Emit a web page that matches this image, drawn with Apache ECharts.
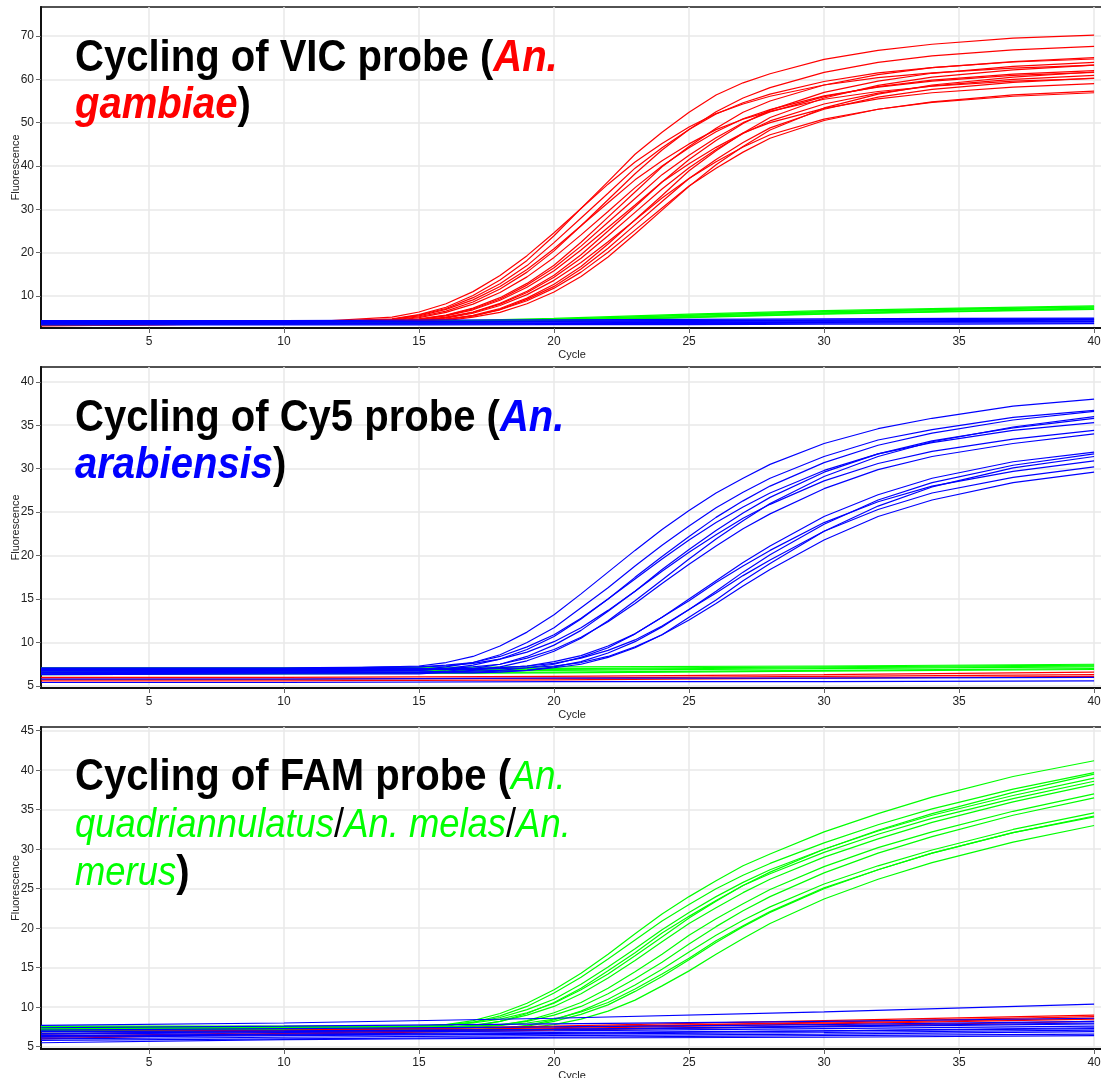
<!DOCTYPE html>
<html><head><meta charset="utf-8">
<script src="https://cdn.jsdelivr.net/npm/echarts@6/dist/echarts.min.js"></script>
<style>html,body{margin:0;padding:0;background:#fff}#c{width:1101px;height:1078px}</style>
</head><body><div id="c"></div>
<script>
// ---------- tick labels ----------
const xTicks = [5, 10, 15, 20, 25, 30, 35, 40];
const yTicks1 = [10, 20, 30, 40, 50, 60, 70];
const yTicks2 = [5, 10, 15, 20, 25, 30, 35, 40];
const yTicks3 = [5, 10, 15, 20, 25, 30, 35, 40, 45];

// ---------- panel 1 (VIC) ----------
const cyc1 = [1, 10, 14, 15, 16, 17, 18, 19, 20, 21, 22, 23, 24, 25, 26, 27, 28, 30, 32, 34, 37, 40];
const vicRed = [
  [3.3,3.7,5.1,6.3,8.2,11.0,14.7,19.3,24.6,30.2,35.8,40.9,45.2,49.0,52.1,54.3,56.1,58.7,60.4,61.5,62.6,63.3],
  [3.5,3.8,4.7,5.7,7.4,10.1,13.7,18.2,23.9,30.2,36.4,42.7,47.8,52.4,56.4,59.2,61.3,64.6,66.7,68.1,69.5,70.2],
  [3.4,3.8,4.6,5.6,7.1,9.6,12.8,17.0,22.3,28.0,33.7,39.5,44.2,48.4,52.0,54.6,56.6,59.5,61.5,62.7,64.0,64.7],
  [3.2,3.7,4.6,5.4,6.9,9.1,12.2,16.1,20.9,26.2,31.5,36.8,41.2,45.1,48.4,50.8,52.6,55.4,57.2,58.4,59.6,60.2],
  [3.6,3.8,4.4,5.2,6.5,8.6,11.6,15.5,20.4,26.2,32.2,38.2,43.7,48.4,52.5,55.7,58.1,61.6,63.9,65.4,66.8,67.6],
  [3.1,3.6,4.3,5.0,6.2,8.1,10.8,14.4,18.9,24.1,29.5,35.0,40.0,44.2,47.9,50.9,53.0,56.2,58.2,59.6,60.9,61.6],
  [3.5,3.8,4.1,4.7,5.6,7.2,9.6,12.9,17.1,22.4,28.2,34.0,39.8,44.5,48.7,52.4,55.0,58.7,61.1,62.7,64.1,65.0],
  [3.3,3.7,4.1,4.6,5.5,7.0,9.3,12.5,16.5,21.5,27.0,32.5,38.0,42.5,46.5,50.0,52.5,56.0,58.3,59.8,61.2,62.0],
  [3.4,3.7,4.1,4.6,5.4,6.8,9.0,12.0,15.8,20.6,25.8,31.0,36.3,40.5,44.3,47.6,50.0,53.3,55.5,56.9,58.2,59.0],
  [3.6,3.8,4.0,4.4,5.1,6.3,8.3,11.1,14.8,19.5,25.0,30.6,36.3,41.5,45.9,49.8,52.9,57.0,59.6,61.4,63.0,63.9],
  [3.2,3.6,4.0,4.3,5.0,6.2,8.1,10.8,14.3,18.7,23.9,29.3,34.7,39.6,43.8,47.5,50.4,54.3,56.8,58.5,60.0,60.9],
  [3.4,3.7,4.0,4.3,4.9,6.0,7.8,10.3,13.6,17.7,22.5,27.5,32.6,37.1,41.0,44.4,47.2,50.8,53.1,54.7,56.1,56.9],
  [3.5,3.8,3.9,4.1,4.6,5.5,7.1,9.5,12.7,16.8,22.0,27.6,33.2,38.9,43.5,47.6,51.2,55.7,58.6,60.5,62.2,63.3],
  [3.3,3.6,3.9,4.1,4.6,5.4,6.9,9.2,12.2,16.2,21.0,26.4,31.8,37.1,41.5,45.4,48.8,53.1,55.9,57.7,59.3,60.3],
  [3.2,3.6,3.9,4.1,4.6,5.4,6.8,8.9,11.8,15.5,20.1,25.2,30.3,35.4,39.5,43.2,46.4,50.5,53.1,54.8,56.4,57.3],
  [3.5,3.8,3.9,4.0,4.3,5.1,6.2,8.2,10.9,14.5,19.0,24.3,29.8,35.3,40.3,44.5,48.3,53.4,56.6,58.7,60.5,61.7]
];
const cycFlat1 = [1, 10, 15, 20, 25, 30, 35, 40];
const vicGreen = [
  [3.6,3.7,3.9,4.6,5.6,6.4,7.0,7.5],
  [3.5,3.6,3.8,4.4,5.3,6.1,6.7,7.2],
  [3.8,3.9,4.1,4.8,5.8,6.6,7.2,7.7],
  [3.4,3.5,3.7,4.2,5.0,5.8,6.4,6.9],
  [3.7,3.8,4.0,4.6,5.5,6.3,6.9,7.4],
  [3.5,3.6,3.8,4.3,5.1,5.9,6.5,7.0]
];
const vicBlue = [
  [4.3,4.3,4.4,4.5,4.6,4.7,4.8,4.9],
  [4.1,4.1,4.1,4.2,4.3,4.4,4.5,4.6],
  [3.9,3.9,4.0,4.0,4.1,4.2,4.3,4.4],
  [3.7,3.7,3.8,3.8,3.9,4.0,4.1,4.2],
  [3.5,3.5,3.5,3.6,3.6,3.7,3.8,3.8],
  [3.3,3.3,3.3,3.4,3.4,3.5,3.5,3.6],
  [4.0,4.0,4.1,4.2,4.3,4.4,4.6,4.7],
  [3.6,3.6,3.7,3.7,3.8,3.9,4.0,4.1]
];

// ---------- panel 2 (Cy5) ----------
const cyc2 = [1, 10, 15, 16, 17, 18, 19, 20, 21, 22, 23, 24, 25, 26, 27, 28, 30, 32, 34, 37, 40];
const cy5Blue = [
  [6.8,6.9,7.3,7.7,8.4,9.6,11.2,13.2,15.6,18.1,20.6,23.0,25.2,27.2,28.9,30.5,32.9,34.6,35.8,37.2,38.0],
  [6.6,6.7,6.9,7.2,7.7,8.6,10.0,11.7,14.0,16.3,18.8,21.2,23.4,25.5,27.3,28.9,31.4,33.3,34.5,35.9,36.7],
  [6.5,6.6,6.8,7.0,7.4,8.1,9.2,10.7,12.7,15.0,17.5,19.9,22.2,24.4,26.3,28.0,30.7,32.7,34.1,35.6,36.6],
  [7.0,7.0,7.2,7.4,7.7,8.4,9.5,10.9,12.8,15.0,17.3,19.6,21.8,23.8,25.6,27.2,29.8,31.7,33.0,34.4,35.3],
  [6.4,6.5,6.6,6.7,7.0,7.5,8.4,9.7,11.4,13.6,15.9,18.4,20.7,22.9,24.9,26.7,29.6,31.7,33.2,34.7,35.8],
  [7.1,7.1,7.2,7.3,7.6,8.1,8.9,10.1,11.7,13.7,15.9,18.2,20.4,22.4,24.3,25.9,28.6,30.6,32.0,33.4,34.4],
  [6.8,6.8,6.8,7.0,7.2,7.5,8.2,9.2,10.6,12.4,14.5,16.8,19.0,21.1,23.1,24.8,27.7,29.9,31.4,32.9,34.0],
  [6.3,6.4,6.4,6.6,6.8,7.2,7.9,9.0,10.5,12.5,14.8,17.2,19.6,21.9,24.0,26.0,29.1,31.4,33.1,34.8,36.0],
  [6.6,6.6,6.6,6.6,6.7,6.8,7.1,7.5,8.3,9.4,11.0,12.9,15.0,17.1,19.2,21.1,24.5,27.0,28.9,30.8,31.9],
  [6.9,6.9,6.9,6.9,7.0,7.1,7.3,7.8,8.5,9.6,11.0,12.9,14.8,16.9,18.8,20.6,23.8,26.2,28.0,29.7,30.9],
  [6.5,6.5,6.5,6.5,6.5,6.6,6.8,7.2,7.8,8.8,10.1,11.8,13.8,15.9,18.1,20.1,23.6,26.4,28.4,30.4,31.7],
  [7.0,7.0,7.0,7.0,7.0,7.1,7.3,7.6,8.2,9.1,10.3,11.9,13.8,15.7,17.7,19.5,22.8,25.3,27.2,29.0,30.2],
  [6.6,6.6,6.6,6.6,6.6,6.7,6.8,7.1,7.5,8.3,9.4,10.9,12.9,14.9,17.1,19.1,22.8,25.7,27.9,30.1,31.4],
  [6.9,6.9,6.9,6.9,6.9,7.0,7.1,7.3,7.7,8.4,9.5,10.9,12.6,14.5,16.5,18.4,21.8,24.5,26.4,28.4,29.6]
];
const cycFlat2 = [1, 10, 20, 30, 40];
const cy5Green = [
  [6.9,6.9,7.0,7.2,7.4],
  [6.7,6.7,6.8,7.0,7.2],
  [6.5,6.5,6.6,6.8,7.0],
  [7.1,7.1,7.2,7.3,7.5],
  [6.3,6.4,6.5,6.7,6.9],
  [6.8,6.8,6.9,7.1,7.3]
];
const cy5Red = [
  [5.8,5.8,5.9,6.1,6.3],
  [5.6,5.6,5.7,5.9,6.1],
  [6.0,6.0,6.1,6.3,6.6]
];
const cy5BlueFlat = [
  [5.4,5.4,5.5,5.5,5.6],
  [5.8,5.8,5.9,5.9,6.0]
];

// ---------- panel 3 (FAM) ----------
const cyc3 = [1, 10, 15, 16, 17, 18, 19, 20, 21, 22, 23, 24, 25, 26, 27, 28, 30, 32, 34, 37, 40];
const famGreen = [
  [7.4,7.4,7.6,7.8,8.3,9.2,10.5,12.2,14.3,16.7,19.3,21.8,24.0,26.0,27.9,29.4,32.2,34.5,36.6,39.2,41.2],
  [7.2,7.2,7.4,7.6,8.1,8.9,10.1,11.8,13.8,16.1,18.5,20.9,23.0,25.0,26.7,28.2,30.8,33.1,35.1,37.6,39.7],
  [7.5,7.5,7.6,7.7,8.1,8.7,9.7,11.0,12.9,15.1,17.4,19.8,22.0,24.0,25.8,27.4,30.0,32.3,34.3,36.8,39.0],
  [7.0,7.0,7.1,7.2,7.6,8.2,9.2,10.6,12.4,14.6,16.9,19.4,21.5,23.5,25.4,26.9,29.6,31.9,33.9,36.4,38.6],
  [7.3,7.3,7.3,7.5,7.7,8.2,9.0,10.1,11.7,13.7,15.9,18.3,20.6,22.6,24.5,26.2,29.0,31.3,33.4,36.0,38.2],
  [7.6,7.6,7.6,7.8,8.0,8.5,9.3,10.5,12.2,14.2,16.5,18.9,21.3,23.4,25.4,27.1,30.0,32.4,34.5,37.2,39.5],
  [7.2,7.2,7.2,7.3,7.4,7.7,8.3,9.3,10.6,12.4,14.5,16.7,19.1,21.2,23.1,24.9,27.8,30.2,32.2,34.8,37.0],
  [7.4,7.4,7.4,7.4,7.6,7.8,8.2,9.0,10.1,11.7,13.6,15.7,18.0,20.2,22.2,24.0,27.0,29.5,31.6,34.3,36.5],
  [6.9,6.9,6.9,6.9,7.1,7.3,7.7,8.4,9.5,11.0,12.8,14.8,17.0,19.1,21.0,22.7,25.6,27.9,29.9,32.5,34.6],
  [7.1,7.1,7.1,7.1,7.2,7.3,7.6,8.2,9.1,10.3,12.0,13.9,16.0,18.2,20.2,22.0,25.0,27.4,29.5,32.1,34.2],
  [7.5,7.5,7.5,7.5,7.6,7.7,8.0,8.5,9.4,10.6,12.3,14.2,16.2,18.4,20.3,22.1,25.1,27.4,29.5,32.1,34.1],
  [7.0,7.0,7.0,7.0,7.0,7.1,7.4,7.8,8.5,9.5,10.9,12.7,14.6,16.7,18.7,20.6,23.7,26.2,28.3,30.9,33.0]
];
const cycFlat3 = [1, 10, 20, 30, 40];
const famRed = [
  [6.6,7.0,7.6,8.3,9.0],
  [6.3,6.8,7.4,8.1,8.8],
  [6.0,6.7,7.3,7.9,8.5],
  [6.9,7.1,7.5,8.0,8.6],
  [6.2,6.6,7.1,7.6,8.2]
];
const famBlue = [
  [7.7,8.0,8.6,9.4,10.4],
  [7.4,7.6,7.9,8.2,8.6],
  [7.1,7.3,7.5,7.8,8.2],
  [6.9,7.0,7.2,7.5,7.9],
  [6.6,6.8,7.0,7.3,7.6],
  [6.4,6.6,6.8,7.0,7.3],
  [6.2,6.4,6.6,6.8,7.1],
  [6.0,6.2,6.4,6.6,6.9],
  [5.8,6.0,6.2,6.4,6.6],
  [5.5,5.9,6.1,6.2,6.4],
  [6.7,6.9,7.2,7.6,8.0],
  [6.3,6.5,6.7,7.0,7.4]
];

// ---------- build ----------
const RED = '#ff0000', GREEN = '#00ff00', BLUE = '#0000ff';
function lines(cyc, arr, color, gi) {
  return arr.map(v => ({
    type: 'line', xAxisIndex: gi, yAxisIndex: gi,
    data: cyc.map((c, i) => [c, v[i]]),
    symbol: 'none', silent: true, animation: false,
    lineStyle: { color: color, width: 1.2 }
  }));
}
const grids = [
  { left: 41, top: 7, width: 1062, height: 321 },
  { left: 41, top: 367, width: 1062, height: 321 },
  { left: 41, top: 727, width: 1062, height: 322 }
].map(g => Object.assign(g, { show: true, borderColor: '#1a1a1a', borderWidth: 1.5, outerBoundsMode: 'none' }));

const F = 'Liberation Sans, Arial, sans-serif';
const lab = { color: '#222', fontSize: 12, fontFamily: F };
function xAx(gi) {
  return {
    type: 'value', gridIndex: gi, min: 1, max: 40.33,
    name: 'Cycle', nameLocation: 'middle', nameGap: 21, nameMoveOverlap: false,
    nameTextStyle: { color: '#222', fontSize: 11, fontFamily: F },
    axisLine: { show: true, onZero: false, lineStyle: { color: '#111', width: 2 } },
    axisTick: { show: true, length: 5, customValues: xTicks, lineStyle: { color: '#666' } },
    axisLabel: Object.assign({ customValues: xTicks, margin: 8 }, lab),
    splitLine: { show: true, lineStyle: { color: '#e8e8e8', width: 1.5 } }
  };
}
function yAx(gi, min, max, ticks) {
  return {
    type: 'value', gridIndex: gi, min: min, max: max,
    name: 'Fluorescence', nameLocation: 'middle', nameGap: 20, nameRotate: 90, nameMoveOverlap: false,
    nameTextStyle: { color: '#222', fontSize: 11, fontFamily: F },
    axisLine: { show: true, lineStyle: { color: '#111', width: 2 } },
    axisTick: { show: true, length: 5, customValues: ticks, lineStyle: { color: '#666' } },
    axisLabel: Object.assign({ customValues: ticks, margin: 7 }, lab),
    splitLine: { show: true, lineStyle: { color: '#e8e8e8', width: 1.5 } }
  };
}

const rich = {
  b: { fontFamily: F, fontSize: 44, fontWeight: 'bold', fill: '#000', lineHeight: 47 },
  r: { fontFamily: F, fontSize: 44, fontWeight: 'bold', fontStyle: 'italic', fill: RED, lineHeight: 47 },
  u: { fontFamily: F, fontSize: 44, fontWeight: 'bold', fontStyle: 'italic', fill: BLUE, lineHeight: 47 },
  g: { fontFamily: F, fontSize: 40, fontStyle: 'italic', fill: GREEN, lineHeight: 48 },
  s: { fontFamily: F, fontSize: 40, fill: '#000', lineHeight: 48 },
  bb: { fontFamily: F, fontSize: 44, fontWeight: 'bold', fill: '#000', lineHeight: 48 }
};
function title(x, y, text) {
  return { type: 'text', x: x, y: y, scaleX: 0.91, z: 100, silent: true,
    style: { text: text, rich: rich, fill: '#000', fontFamily: F, fontSize: 44, fontWeight: 'bold' } };
}

const series = [].concat(
  lines(cyc1, vicRed, RED, 0), lines(cycFlat1, vicGreen, GREEN, 0), lines(cycFlat1, vicBlue, BLUE, 0),
  lines(cycFlat2, cy5Red, RED, 1), lines(cycFlat2, cy5Green, GREEN, 1), lines(cycFlat2, cy5BlueFlat, BLUE, 1), lines(cyc2, cy5Blue, BLUE, 1),
  lines(cyc3, famGreen, GREEN, 2), lines(cycFlat3, famRed, RED, 2), lines(cycFlat3, famBlue, BLUE, 2)
);

const chart = echarts.init(document.getElementById('c'));
chart.setOption({
  animation: false,
  backgroundColor: '#fff',
  grid: grids,
  xAxis: [xAx(0), xAx(1), xAx(2)],
  yAxis: [yAx(0, 2.6, 76.7, yTicks1), yAx(1, 4.77, 41.7, yTicks2), yAx(2, 4.71, 45.47, yTicks3)],
  series: series,
  graphic: [
    title(75, 35, '{b|Cycling of VIC probe (}{r|An.}\n{r|gambiae}{b|)}'),
    title(75, 395, '{b|Cycling of Cy5 probe (}{u|An.}\n{u|arabiensis}{b|)}'),
    title(75, 754, '{bb|Cycling of FAM probe (}{g|An.}\n{g|quadriannulatus}{s|/}{g|An. melas}{s|/}{g|An.}\n{g|merus}{bb|)}')
  ]
});
</script>
</body></html>
